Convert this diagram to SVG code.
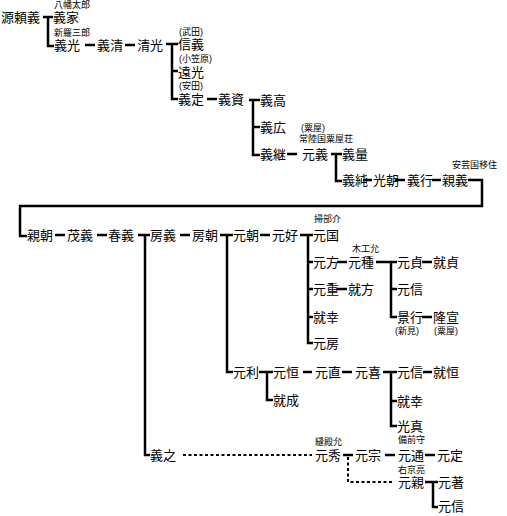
<svg xmlns="http://www.w3.org/2000/svg" width="507" height="516" viewBox="0 0 507 516">
<style>
text{font-family:"Liberation Sans","Noto Sans CJK JP",sans-serif;fill:#000}
.n{font-size:13px}
.s{font-size:9px}
.c line,.c polyline{stroke:#000;stroke-width:2.5;fill:none}
.c .d{stroke-width:2;stroke-dasharray:3 2.5}
</style>
<rect width="507" height="516" fill="#fff"/>
<g class="c" id="connectors">
<line x1="43" y1="17" x2="53" y2="17"/>
<polyline points="48,16 48,46 54,46"/>
<line x1="85" y1="45" x2="95" y2="45"/>
<line x1="125" y1="45" x2="135" y2="45"/>
<line x1="166" y1="44" x2="178" y2="44"/>
<polyline points="172,43 172,99 178,99"/>
<line x1="172" y1="71" x2="178" y2="71"/>
<line x1="207" y1="99" x2="217" y2="99"/>
<line x1="249" y1="100" x2="260" y2="100"/>
<polyline points="253,99 253,155 260,155"/>
<line x1="253" y1="127" x2="260" y2="127"/>
<line x1="287" y1="154" x2="297" y2="154"/>
<line x1="331" y1="154" x2="342" y2="154"/>
<polyline points="336,153 336,181 342,181"/>
<line x1="363" y1="180" x2="372" y2="180"/>
<line x1="395" y1="180" x2="405" y2="180"/>
<line x1="432" y1="180" x2="441" y2="180"/>
<polyline points="468,180 482,180 482,206 20,206 20,236 27,236"/>
<line x1="55" y1="235" x2="65" y2="235"/>
<line x1="97" y1="235" x2="107" y2="235"/>
<line x1="138" y1="235" x2="150" y2="235"/>
<polyline points="145,234 145,455 150,455"/>
<line x1="180" y1="235" x2="190" y2="235"/>
<line x1="220" y1="235" x2="233" y2="235"/>
<polyline points="227,234 227,372 233,372"/>
<line x1="260" y1="235" x2="270" y2="235"/>
<line x1="300" y1="235" x2="313" y2="235"/>
<polyline points="308,234 308,343 313,343"/>
<line x1="308" y1="262" x2="313" y2="262"/>
<line x1="308" y1="289" x2="313" y2="289"/>
<line x1="308" y1="317" x2="313" y2="317"/>
<line x1="337" y1="262" x2="347" y2="262"/>
<line x1="376" y1="262" x2="397" y2="262"/>
<polyline points="391,261 391,317 397,317"/>
<line x1="391" y1="289" x2="397" y2="289"/>
<line x1="422" y1="262" x2="432" y2="262"/>
<line x1="337" y1="289" x2="347" y2="289"/>
<line x1="422" y1="317" x2="432" y2="317"/>
<line x1="259" y1="372" x2="273" y2="372"/>
<polyline points="267,371 267,400 273,400"/>
<line x1="303" y1="372" x2="312" y2="372"/>
<line x1="342" y1="372" x2="352" y2="372"/>
<line x1="383" y1="372" x2="397" y2="372"/>
<polyline points="391,371 391,426 397,426"/>
<line x1="391" y1="401" x2="397" y2="401"/>
<line x1="423" y1="372" x2="432" y2="372"/>
<line class="d" x1="183" y1="455" x2="312" y2="455"/>
<line x1="343" y1="455" x2="353" y2="455"/>
<polyline class="d" points="348,457 348,482 392,482"/>
<line x1="385" y1="455" x2="395" y2="455"/>
<line x1="425" y1="455" x2="435" y2="455"/>
<line x1="425" y1="482" x2="438" y2="482"/>
<polyline points="433,481 433,507 438,507"/>
</g>
<g id="n-yoriyoshi"><text class="n" x="1" y="22">源頼義</text></g>
<g id="n-yoshiie"><text class="s" x="54" y="8">八幡太郎</text><text class="n" x="53" y="22">義家</text></g>
<g id="n-yoshimitsu"><text class="s" x="54" y="36">新羅三郎</text><text class="n" x="54" y="50">義光</text></g>
<g id="n-yoshikiyo"><text class="n" x="97" y="50">義清</text></g>
<g id="n-kiyomitsu"><text class="n" x="137" y="50">清光</text></g>
<g id="n-nobuyoshi"><text class="s" x="179" y="35">(武田)</text><text class="n" x="178" y="49">信義</text></g>
<g id="n-toomitsu"><text class="s" x="179" y="62">(小笠原)</text><text class="n" x="178" y="77">遠光</text></g>
<g id="n-yoshisada"><text class="s" x="179" y="89">(安田)</text><text class="n" x="178" y="104">義定</text></g>
<g id="n-yoshisuke"><text class="n" x="218" y="104">義資</text></g>
<g id="n-yoshitaka"><text class="n" x="260" y="105">義高</text></g>
<g id="n-yoshihiro"><text class="n" x="260" y="132">義広</text></g>
<g id="n-yoshitsugu"><text class="n" x="260" y="159">義継</text></g>
<g id="n-motoyoshi"><text class="s" x="301" y="131">(粟屋)</text><text class="s" x="299" y="142">常陸国粟屋荘</text><text class="n" x="302" y="159">元義</text></g>
<g id="n-yoshikazu"><text class="n" x="342" y="159">義量</text></g>
<g id="n-yoshizumi"><text class="n" x="342" y="185">義純</text></g>
<g id="n-mitsutomo"><text class="n" x="373" y="185">光朝</text></g>
<g id="n-yoshiyuki"><text class="n" x="407" y="185">義行</text></g>
<g id="n-chikayoshi"><text class="s" x="452" y="168">安芸国移住</text><text class="n" x="442" y="185">親義</text></g>
<g id="n-chikatomo"><text class="n" x="27" y="240">親朝</text></g>
<g id="n-shigeyoshi"><text class="n" x="67" y="240">茂義</text></g>
<g id="n-haruyoshi"><text class="n" x="108" y="240">春義</text></g>
<g id="n-fusayoshi"><text class="n" x="150" y="240">房義</text></g>
<g id="n-fusatomo"><text class="n" x="192" y="240">房朝</text></g>
<g id="n-mototomo"><text class="n" x="233" y="240">元朝</text></g>
<g id="n-motoyoshi2"><text class="n" x="272" y="240">元好</text></g>
<g id="n-motokuni"><text class="s" x="314" y="222">掃部介</text><text class="n" x="313" y="240">元国</text></g>
<g id="n-motokata"><text class="n" x="313" y="267">元方</text></g>
<g id="n-motodane"><text class="s" x="352" y="252">木工允</text><text class="n" x="348" y="267">元種</text></g>
<g id="n-motosada"><text class="n" x="397" y="267">元貞</text></g>
<g id="n-narisada"><text class="n" x="433" y="267">就貞</text></g>
<g id="n-motoshige"><text class="n" x="313" y="294">元重</text></g>
<g id="n-narikata"><text class="n" x="348" y="294">就方</text></g>
<g id="n-motonobu1"><text class="n" x="397" y="294">元信</text></g>
<g id="n-kageyuki"><text class="n" x="397" y="322">景行</text><text class="s" x="395" y="334">(新見)</text></g>
<g id="n-takanobu"><text class="n" x="433" y="322">隆宣</text><text class="s" x="434" y="334">(粟屋)</text></g>
<g id="n-narisachi1"><text class="n" x="313" y="322">就幸</text></g>
<g id="n-motofusa"><text class="n" x="313" y="348">元房</text></g>
<g id="n-mototoshi"><text class="n" x="233" y="377">元利</text></g>
<g id="n-motohisa"><text class="n" x="273" y="377">元恒</text></g>
<g id="n-narishige"><text class="n" x="273" y="405">就成</text></g>
<g id="n-motonao"><text class="n" x="315" y="377">元直</text></g>
<g id="n-motoki"><text class="n" x="355" y="377">元喜</text></g>
<g id="n-motonobu2"><text class="n" x="397" y="377">元信</text></g>
<g id="n-narihisa"><text class="n" x="433" y="377">就恒</text></g>
<g id="n-narisachi2"><text class="n" x="397" y="406">就幸</text></g>
<g id="n-mitsuzane"><text class="n" x="397" y="431">光真</text></g>
<g id="n-yoshiyuki2"><text class="n" x="150" y="460">義之</text></g>
<g id="n-motohide"><text class="s" x="315" y="445">縫殿允</text><text class="n" x="315" y="460">元秀</text></g>
<g id="n-motomune"><text class="n" x="355" y="460">元宗</text></g>
<g id="n-motomichi"><text class="s" x="398" y="443">備前守</text><text class="n" x="398" y="460">元通</text></g>
<g id="n-motosada2"><text class="n" x="437" y="460">元定</text></g>
<g id="n-motochika"><text class="s" x="398" y="473">右京亮</text><text class="n" x="398" y="487">元親</text></g>
<g id="n-motoaki"><text class="n" x="438" y="487">元著</text></g>
<g id="n-motonobu3"><text class="n" x="438" y="511">元信</text></g>
</svg>
